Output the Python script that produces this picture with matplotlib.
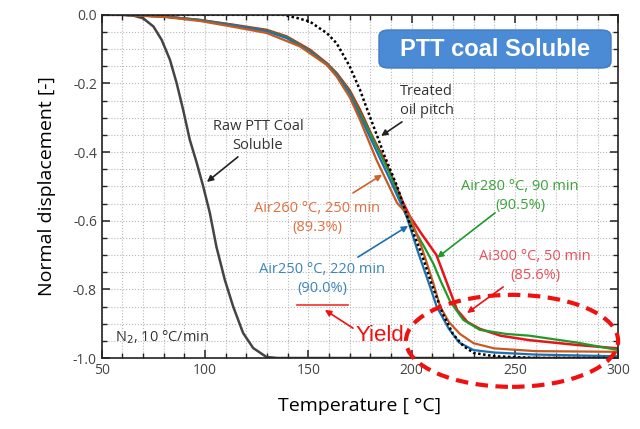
import matplotlib
matplotlib.use("Agg")
import matplotlib.pyplot as plt
from matplotlib.patches import Ellipse, FancyBboxPatch
from matplotlib.ticker import MultipleLocator, FuncFormatter

plt.rcParams['font.family'] = ['Open Sans', 'DejaVu Sans']

# raw PTT coal soluble (N2)
raw_t = [50, 60, 65, 70, 75, 79, 83, 86.2, 89.4, 92.6, 95.9, 99.1, 102.3, 105.5,
         109.6, 113.6, 118.4, 123.3, 129.7, 135, 300]
raw_y = [0, 0, -0.002, -0.01, -0.034, -0.073, -0.131, -0.198, -0.277, -0.364, -0.43,
         -0.50, -0.577, -0.676, -0.773, -0.85, -0.927, -0.971, -0.997, -1.0, -1.0]

# treated oil pitch
pitch_t = [50, 137.7, 145, 150.8, 155.6, 158.9, 163.7, 170, 175, 179.8, 184, 187, 193,
           199, 205, 210, 215, 220, 225, 230, 240, 260, 300]
pitch_y = [0, 0, -0.01, -0.02, -0.04, -0.053, -0.083, -0.15, -0.219, -0.297, -0.364,
           -0.413, -0.5, -0.607, -0.7, -0.79, -0.87, -0.93, -0.965, -0.985, -0.995, -1.0, -1.0]

# Air250 C, 220 min
a250_t = [50, 60, 80, 97.5, 113.6, 129.8, 139.5, 150.8, 158.9, 163.7, 170, 175, 184,
          189.5, 197.6, 203, 208.9, 212.1, 218, 223, 230, 240, 260, 300]
a250_y = [0, 0, -0.005, -0.016, -0.031, -0.048, -0.068, -0.108, -0.145, -0.175, -0.23,
          -0.295, -0.41, -0.48, -0.588, -0.69, -0.792, -0.85, -0.915, -0.955, -0.977,
          -0.984, -0.99, -0.995]

# Air260 C, 250 min
a260_t = [50, 60, 80, 97.5, 113.6, 129.8, 145.9, 158.9, 163.7, 170, 175, 183, 193,
          199.2, 205, 210.5, 213.8, 218, 223.4, 230, 240, 260, 300]
a260_y = [0, 0, -0.006, -0.018, -0.035, -0.053, -0.092, -0.146, -0.18, -0.24, -0.306,
          -0.423, -0.549, -0.588, -0.68, -0.782, -0.85, -0.895, -0.93, -0.957, -0.972,
          -0.98, -0.982]

# Air280 C, 90 min
a280_t = [50, 60, 80, 97.5, 113.6, 129.8, 139.5, 150.8, 158.9, 163.7, 170, 175, 182,
          190, 197.6, 206, 210.5, 214, 218.6, 225, 233, 246, 257, 280, 300]
a280_y = [0, 0, -0.005, -0.015, -0.03, -0.046, -0.065, -0.105, -0.143, -0.172, -0.225,
          -0.285, -0.37, -0.47, -0.588, -0.675, -0.725, -0.775, -0.835, -0.889, -0.918,
          -0.93, -0.935, -0.955, -0.977]

# Air300 C, 50 min
a300_t = [50, 60, 80, 97.5, 113.6, 129.8, 139.5, 150.8, 158.9, 163.7, 170, 175, 181,
          187, 191, 196, 199.2, 205, 212, 217, 222, 227, 233, 243, 257, 280, 300]
a300_y = [0, 0, -0.005, -0.015, -0.029, -0.044, -0.063, -0.102, -0.141, -0.17, -0.22,
          -0.277, -0.355, -0.425, -0.48, -0.549, -0.588, -0.64, -0.70, -0.78, -0.86,
          -0.895, -0.915, -0.935, -0.948, -0.962, -0.972]

fig = plt.figure(figsize=(6.4, 4.29), dpi=100)
ax = fig.add_axes([0.159, 0.1655, 0.807, 0.80])

ax.plot(raw_t, raw_y, color='#444444', lw=1.8)
ax.plot(a300_t, a300_y, color='#e8141a', lw=1.8)
ax.plot(a280_t, a280_y, color='#1e9a2a', lw=1.6)
ax.plot(a250_t, a250_y, color='#1f6fb0', lw=1.6)
ax.plot(a260_t, a260_y, color='#c55a22', lw=1.6)
ax.plot(pitch_t, pitch_y, color='black', lw=1.8, ls=(0, (1, 1)))

ax.set_xlim(50, 300)
ax.set_ylim(-1.0, 0.0)
ax.xaxis.set_major_locator(MultipleLocator(50))
ax.xaxis.set_minor_locator(MultipleLocator(10))
ax.yaxis.set_major_locator(MultipleLocator(0.2))
ax.yaxis.set_minor_locator(MultipleLocator(0.05))
ax.yaxis.set_major_formatter(FuncFormatter(lambda v, p: ('%.1f' % v).replace('\u2212', '-')))
ax.tick_params(which='both', direction='in', top=True, right=True, colors='#222222',
               labelcolor='#444444', labelsize=10)
ax.tick_params(which='major', length=6, width=1.1)
ax.tick_params(which='minor', length=3.5, width=1.0)
ax.grid(which='both', ls=':', color='#b8b8b8', lw=0.8)
for s in ax.spines.values():
    s.set_linewidth(1.2)
    s.set_color('#222222')

ax.set_xlabel('Temperature [ °C]', fontsize=14, labelpad=14)
ax.set_ylabel('Normal displacement [-]', fontsize=14, labelpad=12)


def arrow(tail, head, color):
    ax.annotate('', xy=head, xytext=tail,
                arrowprops=dict(arrowstyle='-|>', lw=1.2, mutation_scale=9, color=color,
                                shrinkA=0, shrinkB=0))


ax.text(125.6, -0.353, 'Raw PTT Coal\nSoluble', ha='center', va='center', fontsize=10.5,
        color='#333333', linespacing=1.3)
arrow((115.9, -0.414), (100.9, -0.487), '#222222')

ax.text(194.5, -0.251, 'Treated\noil pitch', ha='left', va='center', fontsize=10.5,
        color='#333333', linespacing=1.3)
arrow((195.3, -0.312), (185.2, -0.353), '#222222')

ax.text(154.2, -0.592, 'Air260 °C, 250 min\n(89.3%)', ha='center', va='center',
        fontsize=10.5, color='#e07040', linespacing=1.3)
arrow((171.6, -0.519), (185.7, -0.466), '#d0602a')

ax.text(156.6, -0.77, 'Air250 °C, 220 min\n(90.0%)', ha='center', va='center',
        fontsize=10.5, color='#3a86b8', linespacing=1.3)
arrow((174, -0.706), (198.3, -0.615), '#1f6fb0')

ax.text(252.5, -0.528, 'Air280 °C, 90 min\n(90.5%)', ha='center', va='center',
        fontsize=10.5, color='#3aa33a', linespacing=1.3)
arrow((240.4, -0.577), (212.3, -0.708), '#1e9a2a')

ax.text(259.8, -0.732, 'Ai300 °C, 50 min\n(85.6%)', ha='center', va='center',
        fontsize=10.5, color='#e8505a', linespacing=1.3)
arrow((244.3, -0.793), (226.8, -0.869), '#e8141a')

ax.plot([144.5, 169.2], [-0.845, -0.845], color='#f03030', lw=1.2)
ax.text(184.7, -0.933, 'Yield', ha='center', va='center', fontsize=16, color='#f01010',
        family='Liberation Sans')
arrow((171.6, -0.913), (158, -0.86), '#f01010')

ax.text(56.3, -0.939, 'N$_2$, 10 °C/min', ha='left', va='center', fontsize=10.5,
        color='#333333')

ell = Ellipse((248.6, -0.95), 102.7, 0.268, fill=False, ec='#f01010', lw=3,
              ls=(0, (3, 1.8)), clip_on=False, zorder=5)
ax.add_patch(ell)

# title box in pixel coordinates of the figure
box = FancyBboxPatch((379 / 640, 1 - 68 / 429), (611 - 379) / 640, (68 - 30) / 429,
                     boxstyle='round,pad=0,rounding_size=0.015', transform=fig.transFigure,
                     fc='#4b8bd6', ec='#3f7cc4', lw=1, zorder=10)
fig.patches.append(box)
fig.text(495 / 640, 1 - 49 / 429, 'PTT coal Soluble', ha='center', va='center',
         fontsize=17, fontweight='bold', color='white', family='Liberation Sans', zorder=11)

fig.savefig('out.png', dpi=100)
